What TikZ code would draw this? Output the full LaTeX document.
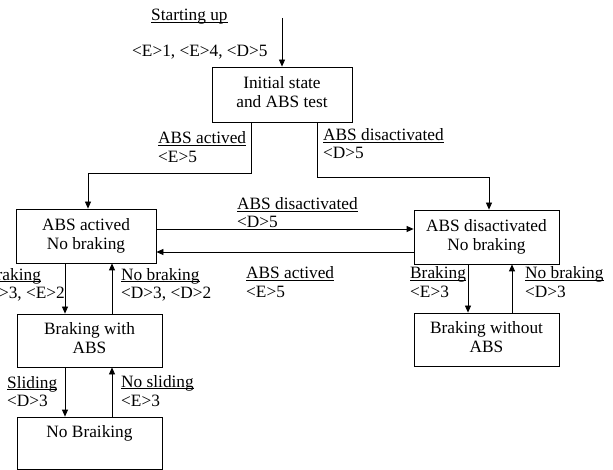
\documentclass[tikz,border=0pt]{standalone}
\usepackage{fontspec}
\setmainfont{Liberation Serif}
\usetikzlibrary{arrows.meta}
\newsavebox\ulbox
\newcommand\ulx[1]{\sbox\ulbox{#1}\rlap{\rule[-2pt]{\wd\ulbox}{0.8pt}}\usebox\ulbox}
\begin{document}
\begin{tikzpicture}[x=1pt,y=-1pt,
  font=\fontsize{17.3}{19}\selectfont,
  state/.style={draw,line width=0.8pt,inner sep=0pt,align=center},
  lbl/.style={inner sep=0pt,anchor=base west},
  lblr/.style={inner sep=0pt,anchor=base east},
  conn/.style={line width=0.8pt},
  arr/.style={conn,-{Triangle[length=7pt,width=6pt]}}]
\useasboundingbox (0,0) rectangle (613,470);
% states
\node[state,minimum width=140pt,minimum height=55pt] (init) at (282,94.5) {\strut Initial state\\and ABS test\strut};
\node[state,minimum width=140pt,minimum height=54pt] (lt) at (86,236) {\strut ABS actived\\No braking\strut};
\node[state,minimum width=145pt,minimum height=54pt] (rt) at (486.5,237) {\strut ABS disactivated\\No braking\strut};
\node[state,minimum width=145pt,minimum height=53pt] (bwa) at (89.5,340.5) {\strut Braking with\\ABS\strut};
\node[state,minimum width=145pt,minimum height=53pt] (bwo) at (486.5,339.5) {\strut Braking without\\ABS\strut};
\node[state,minimum width=145pt,minimum height=52.5pt] (nb) at (89.5,443.25) {\strut No Braiking\\\strut};
% labels
\node[lbl] (s1) at (151,21) {\ulx{Starting up}};
\node[lbl] (s2) at (132,57) {<E>1, <E>4, <D>5};
\node[lbl] (a1) at (158,144) {\ulx{ABS actived}};
\node[lbl] (a2) at (158,163) {<E>5};
\node[lbl] (d1) at (323,141) {\ulx{ABS disactivated}};
\node[lbl] (d2) at (323,159) {<D>5};
\node[lbl] (m1) at (237,210) {\ulx{ABS disactivated}};
\node[lbl] (m2) at (237,228) {<D>5};
\node[lbl] (n1) at (246,279) {\ulx{ABS actived}};
\node[lbl] (n2) at (246,298) {<E>5};
\node[lbl] (b1) at (-15,280) {\ulx{Braking}};
\node[lblr] (b2) at (65,299) {<E>3, <E>2};
\node[lbl] (c1) at (121,280) {\ulx{No braking}};
\node[lbl] (c2) at (121,299) {<D>3, <D>2};
\node[lbl] (e1) at (7,388) {\ulx{Sliding}};
\node[lbl] (e2) at (7,406) {<D>3};
\node[lbl] (f1) at (121,387) {\ulx{No sliding}};
\node[lbl] (f2) at (121,406) {<E>3};
\node[lbl] (g1) at (410,279) {\ulx{Braking}};
\node[lbl] (g2) at (410,298) {<E>3};
\node[lbl] (h1) at (525,279) {\ulx{No braking}};
\node[lbl] (h2) at (525,298) {<D>3};
% connectors
\coordinate (start) at (282,18);
\coordinate (k1) at (88,173);
\coordinate (k2) at (489,177);
\draw[arr] (start) -- (init.north);
\draw[arr] ([xshift=-31pt]init.south) |- (k1) -- (k1 |- lt.north);
\draw[arr] ([xshift=35pt]init.south) |- (k2) -- (k2 |- rt.north);
\draw[arr] (lt.east |- 0,229) -- (rt.west |- 0,229);
\draw[arr] (rt.west |- 0,252) -- (lt.east |- 0,252);
\draw[arr] (lt.south -| 65,0) -- (bwa.north -| 65,0);
\draw[arr] (bwa.north -| 112,0) -- (lt.south -| 112,0);
\draw[arr] (bwa.south -| 65,0) -- (nb.north -| 65,0);
\draw[arr] (nb.north -| 112,0) -- (bwa.south -| 112,0);
\draw[arr] (rt.south -| 468,0) -- (bwo.north -| 468,0);
\draw[arr] (bwo.north -| 512,0) -- (rt.south -| 512,0);
\end{tikzpicture}
\end{document}
